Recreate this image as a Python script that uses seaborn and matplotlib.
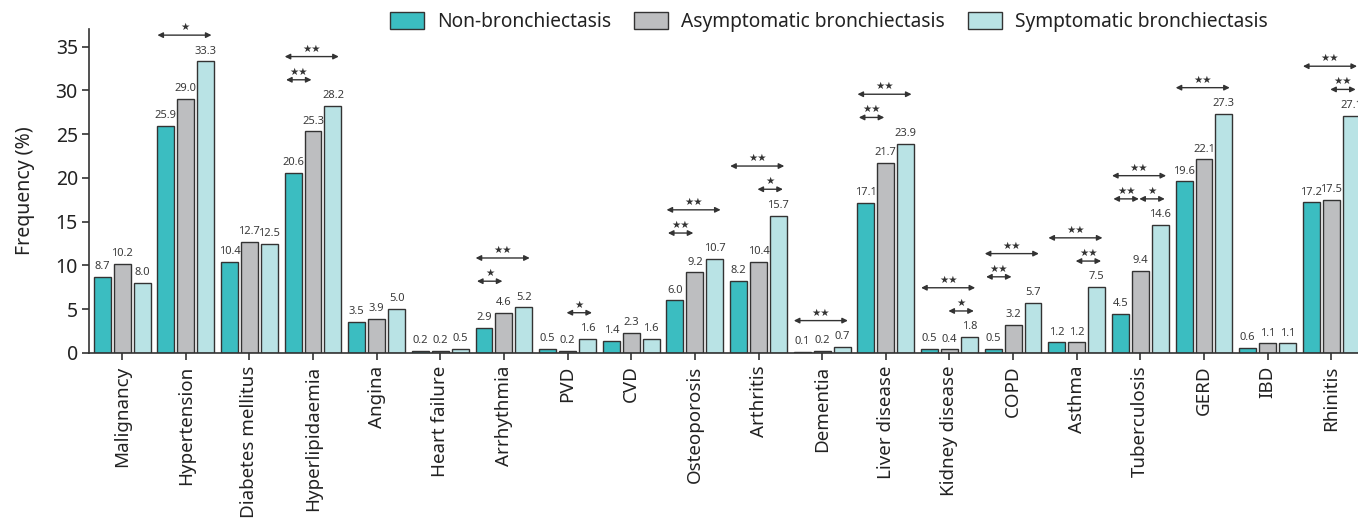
import matplotlib
matplotlib.use("Agg")
import matplotlib.pyplot as plt
import seaborn as sns
import pandas as pd

# ---------------- data ----------------
categories = ["Malignancy", "Hypertension", "Diabetes mellitus", "Hyperlipidaemia",
              "Angina", "Heart failure", "Arrhythmia", "PVD", "CVD", "Osteoporosis",
              "Arthritis", "Dementia", "Liver disease", "Kidney disease", "COPD",
              "Asthma", "Tuberculosis", "GERD", "IBD", "Rhinitis"]
non_bronchiectasis = [8.7, 25.9, 10.4, 20.6, 3.5, 0.2, 2.9, 0.5, 1.4, 6.0,
                      8.2, 0.1, 17.1, 0.5, 0.5, 1.2, 4.5, 19.6, 0.6, 17.2]
asymptomatic = [10.2, 29.0, 12.7, 25.3, 3.9, 0.2, 4.6, 0.2, 2.3, 9.2,
                10.4, 0.2, 21.7, 0.4, 3.2, 1.2, 9.4, 22.1, 1.1, 17.5]
symptomatic = [8.0, 33.3, 12.5, 28.2, 5.0, 0.5, 5.2, 1.6, 1.6, 10.7,
               15.7, 0.7, 23.9, 1.8, 5.7, 7.5, 14.6, 27.3, 1.1, 27.1]
group_names = ["Non-bronchiectasis", "Asymptomatic bronchiectasis",
               "Symptomatic bronchiectasis"]
y_ticks = [0, 5, 10, 15, 20, 25, 30, 35]
# (category, group a, group b, significance stars)
significance = [
    ("Hypertension", 0, 2, "★"),
    ("Hyperlipidaemia", 0, 1, "★★"), ("Hyperlipidaemia", 0, 2, "★★"),
    ("Arrhythmia", 0, 1, "★"), ("Arrhythmia", 0, 2, "★★"),
    ("PVD", 1, 2, "★"),
    ("Osteoporosis", 0, 1, "★★"), ("Osteoporosis", 0, 2, "★★"),
    ("Arthritis", 1, 2, "★"), ("Arthritis", 0, 2, "★★"),
    ("Dementia", 0, 2, "★★"),
    ("Liver disease", 0, 1, "★★"), ("Liver disease", 0, 2, "★★"),
    ("Kidney disease", 1, 2, "★"), ("Kidney disease", 0, 2, "★★"),
    ("COPD", 0, 1, "★★"), ("COPD", 0, 2, "★★"),
    ("Asthma", 1, 2, "★★"), ("Asthma", 0, 2, "★★"),
    ("Tuberculosis", 0, 1, "★★"), ("Tuberculosis", 1, 2, "★"), ("Tuberculosis", 0, 2, "★★"),
    ("GERD", 0, 2, "★★"),
    ("Rhinitis", 1, 2, "★★"), ("Rhinitis", 0, 2, "★★"),
]

# ---------------- style ----------------
colors = ["#3bbdc1", "#bdbec0", "#b9e3e5"]
dark = "#333333"

sns.set_theme(style="ticks")
plt.rcParams["font.family"] = ["Noto Sans", "DejaVu Sans"]

df = pd.DataFrame({
    "Comorbidity": categories * 3,
    "Group": [group_names[0]] * len(categories) + [group_names[1]] * len(categories)
             + [group_names[2]] * len(categories),
    "Frequency": non_bronchiectasis + asymptomatic + symptomatic,
})

W, H = 1358, 522
fig = plt.figure(figsize=(W / 100, H / 100), dpi=100)
ax = fig.add_axes([89 / W, (H - 353) / H, 1 - 89 / W, (353 - 29) / H])

sns.barplot(data=df, x="Comorbidity", y="Frequency", hue="Group",
            order=categories, hue_order=group_names, palette=colors,
            saturation=1, width=0.94, gap=0.15, errorbar=None,
            edgecolor=dark, linewidth=1.0, ax=ax)

for cont in ax.containers:
    ax.bar_label(cont, fmt="%.1f", padding=3.5, fontsize=8, color="#3a3a3a")

ax.set_xlim(-0.52, 19.42)
ax.set_ylim(0, 37)
ax.set_yticks(y_ticks)
ax.set_xlabel("")
ax.set_ylabel("Frequency (%)", fontsize=14, labelpad=15, color="#222222")
ax.tick_params(axis="x", rotation=90, labelsize=13.5, length=5, width=1.2,
               color=dark, pad=4, labelcolor="#222222")
ax.tick_params(axis="y", labelsize=14, length=5, width=1.2, color=dark,
               pad=3, labelcolor="#222222")
sns.despine(ax=ax)
for s in ("left", "bottom"):
    ax.spines[s].set_color(dark)
    ax.spines[s].set_linewidth(1.2)

# ---------------- significance arrows ----------------
slot = 0.94 / 3
group_vals = [non_bronchiectasis, asymptomatic, symptomatic]
for cat, a, b, stars in significance:
    i = categories.index(cat)
    top = max(g[i] for g in group_vals)
    has_short = any(c == cat and (bb - aa) == 1 for c, aa, bb, _ in significance)
    level = 1 if (b - a == 2 and has_short) else 0
    y = top + 3.0 + 2.65 * level
    mid = ((a - 1) * slot + (b - 1) * slot) / 2
    center = i + mid * 1.3 - 0.02
    half = 0.2 if b - a == 1 else 0.425
    ax.annotate("", xy=(center + half, y), xytext=(center - half, y),
                arrowprops=dict(arrowstyle="<|-|>", color=dark, lw=1.0,
                                mutation_scale=8, shrinkA=0, shrinkB=0),
                annotation_clip=False)
    ax.annotate(stars, xy=(center, y), xytext=(0, 5.8), textcoords="offset points",
                ha="center", va="center", fontsize=7.5, color=dark,
                family=["DejaVu Sans"], annotation_clip=False)

# ---------------- legend ----------------
handles, labels = ax.get_legend_handles_labels()
if ax.get_legend() is not None:
    ax.get_legend().remove()
fig.legend(handles, labels, loc="center left", bbox_to_anchor=(390 / W, 1 - 22 / H),
           ncol=3, frameon=False, fontsize=13.8, handlelength=1.77, handleheight=0.94,
           handletextpad=0.68, columnspacing=1.2, borderpad=0, borderaxespad=0,
           labelcolor="#222222")

fig.savefig("out.png", dpi=100)
